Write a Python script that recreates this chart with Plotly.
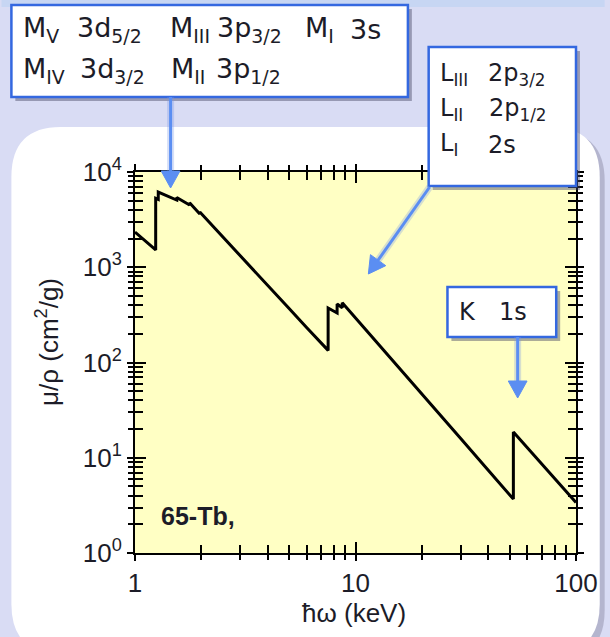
import plotly.graph_objects as go

# Mass attenuation coefficient of terbium (Z = 65), edges drawn as vertical jumps
energy_kev = [1.000, 1.241, 1.241, 1.275, 1.275, 1.400, 1.546, 1.546, 1.768, 1.768,
              1.968, 1.968, 2.000, 3.000, 4.000, 5.000, 6.000, 7.514, 7.514, 8.252,
              8.252, 8.708, 8.708, 10.00, 15.00, 20.00, 30.00, 40.00, 51.996, 51.996,
              60.00, 80.00, 100.0]
mu_rho = [2340, 1520, 5300, 5150, 6150, 5650, 5080, 5400, 4500, 4750,
          3630, 3800, 3650, 1320, 645, 368, 233, 134, 373, 331,
          411, 375, 425, 295, 100, 46.7, 15.9, 7.4, 3.68, 18.6,
          12.8, 6.07, 3.4]

x_major = [1, 10, 100]
x_major_text = ["1", "10", "100"]
y_major = [1, 10, 100, 1000, 10000]
y_major_text = ["10<sup>0</sup>", "10<sup>1</sup>", "10<sup>2</sup>",
                "10<sup>3</sup>", "10<sup>4</sup>"]
x_minor = [m * d for d in (1, 10) for m in range(2, 10)]
y_minor = [m * d for d in (1, 10, 100, 1000) for m in range(2, 10)]

element_label = "65-Tb,"
x_title = "ħω (keV)"
y_title = "μ/ρ (cm<sup>2</sup>/g)"

# page geometry (pixels) of the plotting area
W, H = 610, 637
PL, PR, PT, PB = 135, 581, 172, 553


def fx(p):
    return (p - PL) / (PR - PL)


def fy(p):
    return (PB - p) / (PB - PT)


def pt(x, y):
    return f"{fx(x):.5f},{fy(y):.5f}"


def rounded_path(x0, y0, x1, y1, r):
    return (f"M {pt(x0 + r, y0)} L {pt(x1 - r, y0)} Q {pt(x1, y0)} {pt(x1, y0 + r)} "
            f"L {pt(x1, y1 - r)} Q {pt(x1, y1)} {pt(x1 - r, y1)} "
            f"L {pt(x0 + r, y1)} Q {pt(x0, y1)} {pt(x0, y1 - r)} "
            f"L {pt(x0, y0 + r)} Q {pt(x0, y0)} {pt(x0 + r, y0)} Z")


def rect(x0, y0, x1, y1, fill, line_color=None, line_width=0, layer="above"):
    return dict(type="rect", xref="paper", yref="paper",
                x0=fx(x0), x1=fx(x1), y0=fy(y1), y1=fy(y0),
                fillcolor=fill, layer=layer,
                line=dict(color=line_color or fill, width=line_width))


def arrow(x0, y0, x1, y1, color="#5b8ef2", width=3, head_len=17, head_w=19):
    dx, dy = x1 - x0, y1 - y0
    n = (dx * dx + dy * dy) ** 0.5
    ux, uy = dx / n, dy / n
    bx, by = x1 - ux * head_len, y1 - uy * head_len
    nx, ny = -uy, ux
    glow = dict(type="line", xref="paper", yref="paper",
                x0=fx(x0), y0=fy(y0), x1=fx(bx), y1=fy(by),
                line=dict(color="rgba(120,150,230,0.30)", width=width + 4), layer="above")
    shaft = dict(type="line", xref="paper", yref="paper",
                 x0=fx(x0), y0=fy(y0), x1=fx(bx + ux), y1=fy(by + uy),
                 line=dict(color=color, width=width), layer="above")
    head = dict(type="path", xref="paper", yref="paper", layer="above",
                path=(f"M {pt(x1, y1)} L {pt(bx + nx * head_w / 2, by + ny * head_w / 2)} "
                      f"L {pt(bx - nx * head_w / 2, by - ny * head_w / 2)} Z"),
                fillcolor=color, line=dict(color=color, width=1))
    return [glow, shaft, head]


BOX_LINE = "#3468e0"
SHADOW = "rgba(70,70,100,0.45)"

shapes = [
    # light band along the top of the page
    rect(0, 0, W, 7, "#c7d6f3", layer="below"),
    # white rounded panel with a soft shadow
    dict(type="path", xref="paper", yref="paper", layer="below",
         path=rounded_path(14, 131, 610, 660, 50),
         fillcolor="rgba(150,150,175,0.55)", line=dict(width=0)),
    dict(type="path", xref="paper", yref="paper", layer="below",
         path=rounded_path(10, 127, 605, 654, 50),
         fillcolor="white", line=dict(width=0)),
    # yellow plotting area
    dict(type="rect", xref="paper", yref="paper", x0=0, x1=1, y0=0, y1=1,
         fillcolor="#ffffc4", line=dict(width=0), layer="below"),
]

# call-out boxes (shadow first, then the box itself)
boxes = [(10, 5, 411, 97), (432, 47, 581, 186), (451, 287, 561, 337)]
for (x0, y0, x1, y1) in boxes:
    shapes.append(rect(x0 + 4, y0 + 4, x1 + 4, y1 + 4, SHADOW))
    shapes.append(rect(x0, y0, x1, y1, "white", BOX_LINE, 2.5))

shapes += arrow(171, 97, 171, 188)
shapes += arrow(433, 187, 371, 274)
shapes += arrow(522, 337, 522, 398)

BOX_FONT = "DejaVu Sans"
TXT = "#1c1c28"


def label(x, y, text, size, family=BOX_FONT, bold=False):
    return dict(xref="paper", yref="paper", x=fx(x), y=fy(y), text=text,
                xanchor="left", yanchor="middle", showarrow=False,
                font=dict(family=family, size=size, color=TXT,
                          weight="bold" if bold else "normal"))


annotations = [
    # M shells
    label(20, 29, "M<sub>V</sub>", 27),
    label(74, 29, "3d<sub>5/2</sub>", 27),
    label(168, 29, "M<sub>III</sub>", 27),
    label(216, 29, "3p<sub>3/2</sub>", 27),
    label(305, 29, "M<sub>I</sub>", 27),
    label(350, 29, "3s", 27),
    label(20, 70, "M<sub>IV</sub>", 27),
    label(77, 70, "3d<sub>3/2</sub>", 27),
    label(169, 70, "M<sub>II</sub>", 27),
    label(215, 70, "3p<sub>1/2</sub>", 27),
    # L shells
    label(441, 74, "L<sub>III</sub>", 24),
    label(490, 74, "2p<sub>3/2</sub>", 24),
    label(441, 109, "L<sub>II</sub>", 24),
    label(491, 109, "2p<sub>1/2</sub>", 24),
    label(441, 145, "L<sub>I</sub>", 24),
    label(490, 145, "2s", 24),
    # K shell
    label(461, 312, "K", 24),
    label(501, 312, "1s", 24),
    # element tag
    label(159, 516, element_label, 25, family="Liberation Sans, Arial", bold=True),
    # axis titles
    dict(xref="paper", yref="paper", x=fx(356), y=fy(613), text=x_title,
         xanchor="center", yanchor="middle", showarrow=False,
         font=dict(family="Liberation Sans, Arial", size=26, color=TXT)),
    dict(xref="paper", yref="paper", x=fx(46), y=fy(342), text=y_title,
         xanchor="center", yanchor="middle", showarrow=False, textangle=-90,
         font=dict(family="Liberation Sans, Arial", size=26, color=TXT)),
]

tick_font = dict(family="Liberation Sans, Arial", size=26, color=TXT)


def make_axis(vals, minor_vals, rng, outside, text=None):
    d = dict(type="log", range=rng, autorange=False, showgrid=False, zeroline=False,
             showline=True, linecolor="black", linewidth=2, mirror="allticks",
             ticks="outside" if outside else "inside",
             ticklen=6 if outside else 11, tickwidth=2, tickcolor="black",
             tickmode="array", tickvals=vals,
             minor=dict(tickmode="array", tickvals=minor_vals,
                        ticks="outside" if outside else "inside",
                        ticklen=5 if outside else 8, tickwidth=2, tickcolor="black",
                        showgrid=False))
    if text is not None:
        d.update(ticktext=text, showticklabels=True, tickfont=tick_font)
    else:
        d.update(showticklabels=False)
    return d


fig = go.Figure()
fig.add_trace(go.Scatter(x=energy_kev, y=mu_rho, mode="lines",
                         line=dict(color="black", width=3), showlegend=False,
                         hoverinfo="skip"))
# second pair of axes carries the inward half of each tick mark
fig.add_trace(go.Scatter(x=[], y=[], xaxis="x2", yaxis="y2", mode="lines",
                         showlegend=False, hoverinfo="skip"))

xa = make_axis(x_major, x_minor, [0, 2], True, x_major_text)
ya = make_axis(y_major, y_minor, [0, 4], True, y_major_text)
xa2 = make_axis(x_major, x_minor, [0, 2], False)
ya2 = make_axis(y_major, y_minor, [0, 4], False)
xa2.update(overlaying="x", anchor="y2", side="bottom")
ya2.update(overlaying="y", anchor="x2", side="left")

fig.update_layout(
    width=W, height=H,
    margin=dict(l=PL, r=W - PR, t=PT, b=H - PB, pad=0),
    paper_bgcolor="#d9dcf4", plot_bgcolor="rgba(0,0,0,0)",
    xaxis=xa, yaxis=ya, xaxis2=xa2, yaxis2=ya2,
    shapes=shapes, annotations=annotations, showlegend=False,
)

fig.write_html("out.html", config={"displayModeBar": False})
